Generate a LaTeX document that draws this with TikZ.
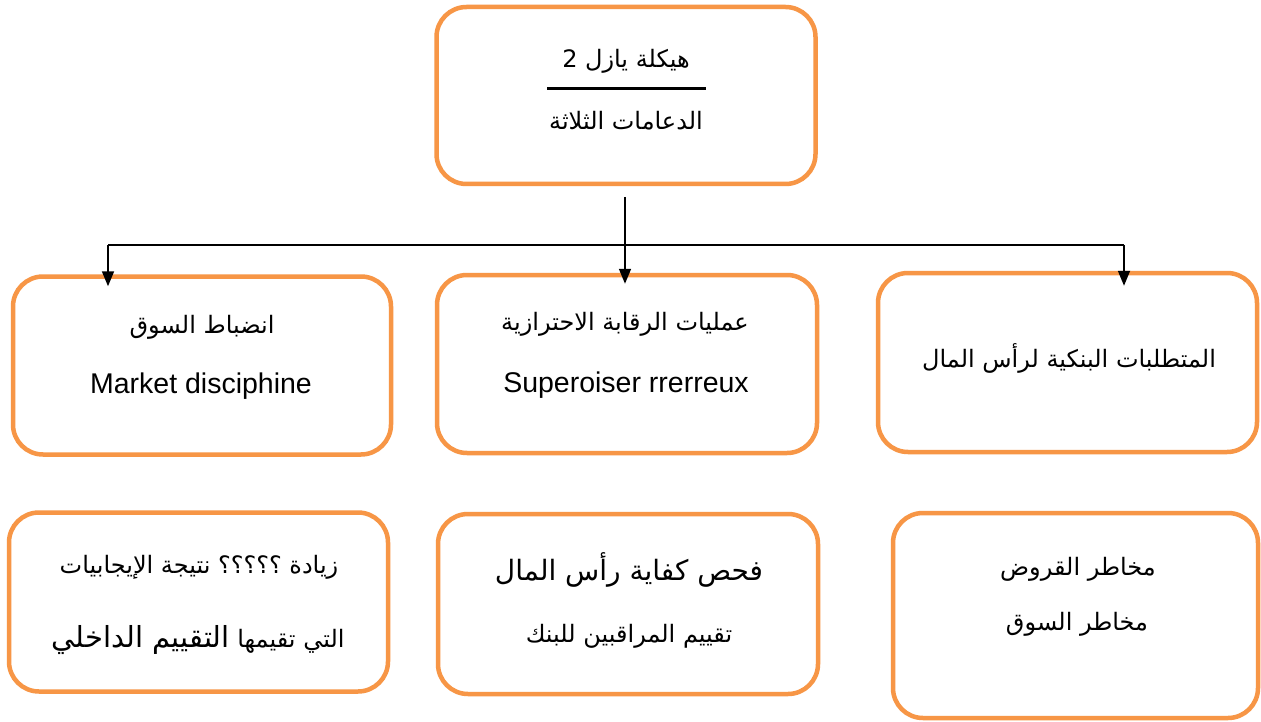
\documentclass[tikz,border=0pt]{standalone}
\usepackage{fontspec}
\setmainfont{Liberation Sans}
\newfontfamily\arabicfont[Script=Arabic]{DejaVu Sans}
\TeXXeTstate=1
\usetikzlibrary{arrows.meta}
\definecolor{boxorange}{HTML}{F79646}

% font size helper (size equals baseline skip)
\newcommand\sz[1]{\fontsize{#1}{#1}\selectfont}

\begin{document}
\begin{tikzpicture}[x=1pt,y=-1pt,
  pillar/.style={draw=boxorange, line width=4.5pt, rounded corners=30pt,
    fill=white, inner sep=0pt},
  lbl/.style={inner sep=0pt, anchor=base},
  arlbl/.style={lbl, font=\arabicfont\sz{24}},
  enlbl/.style={lbl, font=\sz{28.5}},
  link/.style={line width=1.7pt, black},
  arrowlink/.style={link, -{Triangle[length=15pt,width=12pt]}}]

\useasboundingbox[fill=white] (0,0) rectangle (1261,722);

% boxes
\node[pillar, minimum width=379pt, minimum height=177pt] (top) at (626,95.5) {};
\node[pillar, minimum width=378pt, minimum height=178pt] (ml) at (202,365.5) {};
\node[pillar, minimum width=380pt, minimum height=178pt] (mm) at (627,364) {};
\node[pillar, minimum width=379pt, minimum height=179pt] (mr) at (1067.5,362.5) {};
\node[pillar, minimum width=379pt, minimum height=179pt] (bl) at (198.5,602) {};
\node[pillar, minimum width=380pt, minimum height=180pt] (bm) at (628,604) {};
\node[pillar, minimum width=365pt, minimum height=205pt] (br) at (1075.5,615.5) {};

% top box text
\node[arlbl] (title) at (626,68) {\beginR هيكلة يازل 2\endR};
\draw[line width=3pt] (547,89) -- (706,89);
\node[arlbl] (subtitle) at (626,130) {\beginR الدعامات الثلاثة\endR};

% middle row text
\node[arlbl] (mlar) at (202,333) {\beginR انضباط السوق\endR};
\node[enlbl] (mlen) at (201,393) {Market disciphine};
\node[arlbl] (mmar) at (625,330) {\beginR عمليات الرقابة الاحترازية\endR};
\node[enlbl] (mmen) at (626,392) {Superoiser rrerreux};
\node[arlbl] (mrar) at (1069,367) {\beginR المتطلبات البنكية لرأس المال\endR};

% bottom row text
\node[arlbl] (bl1) at (199,573) {\beginR زيادة ؟؟؟؟؟ نتيجة الإيجابيات\endR};
\node[arlbl] (bl2) at (198,647) {\beginR التي تقيمها\ {\sz{29}التقييم الداخلي}\endR};
\node[arlbl] (bm1) at (629,580) {\beginR{\sz{28}فحص كفاية رأس المال}\endR};
\node[arlbl] (bm2) at (629,642) {\beginR تقييم المراقبين للبنك\endR};
\node[arlbl] (br1) at (1078,575) {\beginR مخاطر القروض\endR};
\node[arlbl] (br2) at (1077,630) {\beginR مخاطر السوق\endR};

% connectors
\coordinate (stem) at (625,197);
\coordinate (hub) at (625,245);
\coordinate (hubl) at (108,245);
\coordinate (hubr) at (1124,245);
\draw[link] (stem) -- (hub);
\draw[link] (hubl) -- (hubr);
\draw[arrowlink, shorten >=-12pt] (hubl) -- (hubl |- ml.north);
\draw[arrowlink, shorten >=-11pt] (hub) -- (hub |- mm.north);
\draw[arrowlink, shorten >=-15pt] (hubr) -- (hubr |- mr.north);
\end{tikzpicture}
\end{document}
